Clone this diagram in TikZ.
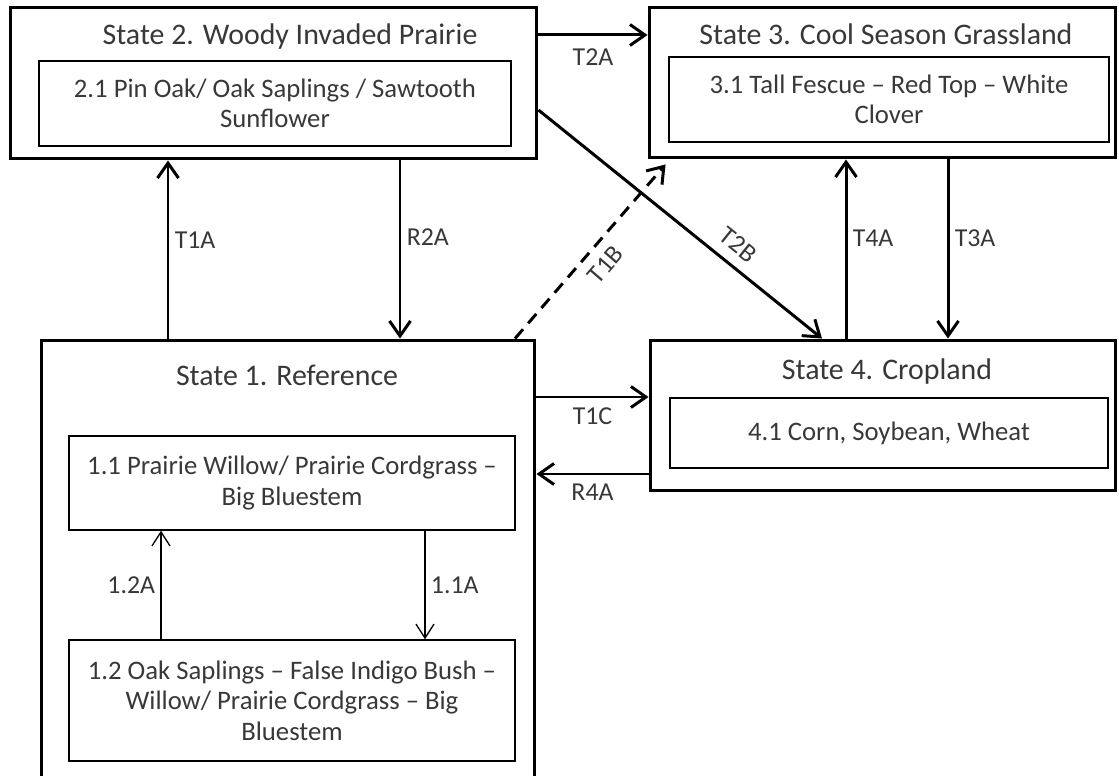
\documentclass[tikz,border=0pt]{standalone}
\usepackage{fontspec}
\setmainfont{Carlito}
\usetikzlibrary{arrows.meta}
\definecolor{txt}{gray}{0.22}
\tikzset{
  state/.style={draw, line width=1.7pt, inner sep=0pt},
  title/.style={font=\fontsize{17}{20}\selectfont, text=txt},
  comm/.style={draw, line width=0.8pt, inner sep=0pt, align=center, font=\fontsize{15.2}{17.3}\selectfont, text=txt},
  arr/.style={line width=1.7pt, -{Straight Barb[length=3mm,width=4.2mm]}},
  thinarr/.style={line width=0.75pt, -{Straight Barb[length=2.8mm,width=3.6mm]}},
  lbl/.style={font=\fontsize{14.7}{17}\selectfont, text=txt, inner sep=3pt}
}
\begin{document}
\begin{tikzpicture}[x=0.02cm,y=-0.02cm]
    \useasboundingbox (0,0) rectangle (1119,776);
    \node[state, minimum width=10.54cm, minimum height=3.04cm] (s2) at (273.5,83) {};
    \node[title] (s2t) at (290,37) {State 2. Woody Invaded Prairie};
    \node[comm, minimum width=9.44cm, minimum height=1.7cm] (c21) at (275,103.5) {2.1 Pin Oak/ Oak Saplings / Sawtooth\\Sunflower};
    \node[state, minimum width=9.34cm, minimum height=3.02cm] (s3) at (882.5,82.5) {};
    \node[title] (s3t) at (886,34) {State 3. Cool Season Grassland};
    \node[comm, minimum width=8.8cm, minimum height=1.7cm] (c31) at (889,99.5) {3.1 Tall Fescue -- Red Top -- White\\Clover};
    \node[state, minimum width=9.88cm, minimum height=9cm] (s1) at (288,565) {};
    \node[title] (s1t) at (287,375) {State 1. Reference};
    \node[comm, minimum width=8.92cm, minimum height=1.88cm] (c11) at (292,483) {1.1 Prairie Willow/ Prairie Cordgrass --\\Big Bluestem};
    \node[comm, minimum width=8.92cm, minimum height=2.42cm] (c12) at (292,700.5) {1.2 Oak Saplings -- False Indigo Bush --\\Willow/ Prairie Cordgrass -- Big\\Bluestem};
    \node[state, minimum width=9.32cm, minimum height=3.02cm] (s4) at (883,415.5) {};
    \node[title] (s4t) at (887,372) {State 4. Cropland};
    \node[comm, minimum width=8.76cm, minimum height=1.4cm] (c41) at (889,433) {4.1 Corn, Soybean, Wheat};
    \draw[arr] (s1.north -| 168,0) -- (s2.south -| 168,0) node[lbl, pos=0.55, right] {T1A};
    \draw[arr] (s2.south -| 400,0) -- (s1.north -| 400,0) node[lbl, pos=0.43, right] {R2A};
    \draw[arr] (s2.east |- 0,35) -- (s3.west |- 0,35) node[lbl, midway, below=4pt] {T2A};
    \draw[arr] (s2.east |- 0,110) -- (s4.north -| 822,0) node[lbl, pos=0.66, sloped, above=3pt] {T2B};
    \draw[arr, dash pattern=on 7pt off 4.5pt] (s1.north -| 515,0) -- ([shift={(18,5)}]s3.south west) node[lbl, midway, sloped, below=3pt] {T1B};
    \draw[arr] (s4.north -| 846,0) -- (s3.south -| 846,0) node[lbl, pos=0.56, right] {T4A};
    \draw[arr] (s3.south -| 948,0) -- (s4.north -| 948,0) node[lbl, pos=0.44, right] {T3A};
    \draw[arr] (s1.east |- 0,397) -- (s4.west |- 0,397) node[lbl, midway, below=2pt] {T1C};
    \draw[arr] (s4.west |- 0,474) -- (s1.east |- 0,474) node[lbl, midway, below=2pt] {R4A};
    \draw[thinarr] (c12.north -| 161,0) -- (c11.south -| 161,0) node[lbl, midway, left] {1.2A};
    \draw[thinarr] (c11.south -| 425,0) -- (c12.north -| 425,0) node[lbl, midway, right] {1.1A};
\end{tikzpicture}
\end{document}
